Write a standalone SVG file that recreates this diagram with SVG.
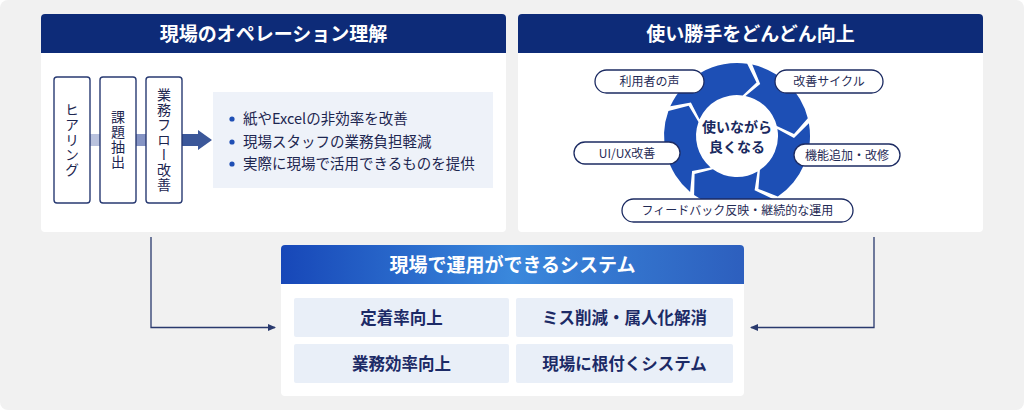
<svg xmlns="http://www.w3.org/2000/svg" width="1024" height="410" viewBox="0 0 1024 410">
<defs>
<style>
text{font-family:"Noto Sans CJK JP","Noto Sans",sans-serif}
.hdr{fill:#0d2b78}
.htxt{fill:#fff;font-size:19px;font-weight:700;text-anchor:middle}
.vbox{fill:#fff;stroke:#283a72;stroke-width:1.4}
.vtxt{fill:#1d2650;font-size:14px;writing-mode:vertical-rl;text-anchor:middle;letter-spacing:1px}
.btxt{fill:#1d2650;font-size:14.5px}
.dot{fill:#1f4fb5}
.seg{fill:#1d4fb5}
.pill{fill:#fff;stroke:#1c2b62;stroke-width:1.3}
.ptxt{fill:#1f2a55;font-size:12px;text-anchor:middle}
.cell{fill:#e9eff8}
.ctxt{fill:#1c2a66;font-size:16.5px;font-weight:700;text-anchor:middle}
.conn{fill:none;stroke:#2a3a6e;stroke-width:1.3}
.ctr{fill:#1a2a60;font-size:14px;font-weight:700;text-anchor:middle}
</style>
<linearGradient id="bg" x1="0" y1="0" x2="1" y2="0">
<stop offset="0" stop-color="#1747b8"/>
<stop offset="0.5" stop-color="#3a88dc"/>
<stop offset="1" stop-color="#2d5fbe"/>
</linearGradient>
<marker id="ah" markerWidth="8" markerHeight="8" refX="7" refY="4" orient="auto" markerUnits="userSpaceOnUse">
<path d="M0,0.5 L8,4 L0,7.5 Z" fill="#2a3a6e"/>
</marker>
</defs>
<rect x="0" y="0" width="1024" height="410" rx="8" fill="#f1f1f1"/>

<g id="panel-left">
<rect x="41" y="14" width="465" height="218" rx="4" fill="#fff"/>
<path class="hdr" d="M45,14 H502 a4,4 0 0 1 4,4 V53 H41 V18 a4,4 0 0 1 4,-4 Z"/>
<text class="htxt" x="273.5" y="40.5">現場のオペレーション理解</text>
<rect x="90" y="134" width="10" height="12" fill="#b9c2de"/>
<rect x="136" y="134" width="10" height="12" fill="#8594c4"/>
<path d="M182,134 H198 V130 L212,140 L198,150 V146 H182 Z" fill="#3b5799"/>
<g id="step-hearing"><rect class="vbox" x="54" y="77" width="36" height="126" rx="3"/><text class="vtxt" x="72" y="140">ヒアリング</text></g>
<g id="step-issue"><rect class="vbox" x="100" y="77" width="36" height="126" rx="3"/><text class="vtxt" x="118" y="140">課題抽出</text></g>
<g id="step-flow"><rect class="vbox" x="146" y="77" width="36" height="126" rx="3"/><text class="vtxt" x="164" y="140">業務フロー改善</text></g>
<g id="bullets">
<rect x="213" y="92" width="280" height="96" fill="#eef2f9"/>
<circle class="dot" cx="232" cy="119" r="2.6"/>
<text class="btxt" x="243" y="124">紙やExcelの非効率を改善</text>
<circle class="dot" cx="232" cy="142" r="2.6"/>
<text class="btxt" x="243" y="147">現場スタッフの業務負担軽減</text>
<circle class="dot" cx="232" cy="164" r="2.6"/>
<text class="btxt" x="243" y="169">実際に現場で活用できるものを提供</text>
</g>
</g>

<g id="panel-right">
<rect x="518" y="14" width="465" height="218" rx="4" fill="#fff"/>
<path class="hdr" d="M522,14 H979 a4,4 0 0 1 4,4 V53 H518 V18 a4,4 0 0 1 4,-4 Z"/>
<text class="htxt" x="750.5" y="40.5">使い勝手をどんどん向上</text>
<g id="cycle">
<path class="seg" d="M752.2,64.6 A73,73 0 0 1 807.8,118.3 L794.0,134.0 L776.8,126.1 A41,41 0 0 0 745.5,95.9 L760.2,83.9 Z"/>
<path class="seg" d="M808.9,123.3 A73,73 0 0 1 777.8,196.5 L758.4,188.9 L759.9,170.0 A41,41 0 0 0 777.4,128.9 L794.0,138.0 Z"/>
<path class="seg" d="M773.5,199.2 A73,73 0 0 1 694.1,195.1 L694.6,174.1 L712.9,169.2 A41,41 0 0 0 757.5,171.5 L754.6,190.2 Z"/>
<path class="seg" d="M690.1,191.9 A73,73 0 0 1 668.4,111.0 L688.7,105.8 L698.5,122.0 A41,41 0 0 0 710.6,167.4 L692.1,171.1 Z"/>
<path class="seg" d="M670.3,106.3 A73,73 0 0 1 747.2,63.7 L756.5,82.4 L742.7,95.4 A41,41 0 0 0 699.5,119.3 L690.9,102.5 Z"/>
<text class="ctr" x="737" y="131.5">使いながら</text>
<text class="ctr" x="737" y="152">良くなる</text>
</g>
<g id="pill-voice"><rect class="pill" x="595" y="70" width="109" height="23" rx="11.5"/><text class="ptxt" x="649.5" y="86">利用者の声</text></g>
<g id="pill-cycle"><rect class="pill" x="775" y="70" width="108" height="23" rx="11.5"/><text class="ptxt" x="829" y="86">改善サイクル</text></g>
<g id="pill-uiux"><rect class="pill" x="574" y="142" width="106" height="22" rx="11"/><text class="ptxt" x="627" y="157.5">UI/UX改善</text></g>
<g id="pill-feature"><rect class="pill" x="794" y="144" width="106" height="22" rx="11"/><text class="ptxt" x="847" y="159.5">機能追加・改修</text></g>
<g id="pill-feedback"><rect class="pill" x="622" y="199" width="231" height="23" rx="11.5"/><text class="ptxt" x="737.5" y="215">フィードバック反映・継続的な運用</text></g>
</g>

<g id="connectors">
<path class="conn" d="M151,237 V327.5 H275" marker-end="url(#ah)"/>
<path class="conn" d="M874,237 V327.5 H751" marker-end="url(#ah)"/>
</g>

<g id="panel-bottom">
<rect x="281" y="245" width="463" height="151" rx="4" fill="#fff"/>
<path d="M285,245 H740 a4,4 0 0 1 4,4 V284 H281 V249 a4,4 0 0 1 4,-4 Z" fill="url(#bg)"/>
<text class="htxt" x="512.5" y="271.5">現場で運用ができるシステム</text>
<g id="cell-1"><rect class="cell" x="294" y="298" width="215" height="39" rx="2"/><text class="ctxt" x="401.5" y="323.5">定着率向上</text></g>
<g id="cell-2"><rect class="cell" x="516" y="298" width="217" height="39" rx="2"/><text class="ctxt" x="624.5" y="323.5">ミス削減・属人化解消</text></g>
<g id="cell-3"><rect class="cell" x="294" y="344" width="215" height="39" rx="2"/><text class="ctxt" x="401.5" y="369.5">業務効率向上</text></g>
<g id="cell-4"><rect class="cell" x="516" y="344" width="217" height="39" rx="2"/><text class="ctxt" x="624.5" y="369.5">現場に根付くシステム</text></g>
</g>
</svg>
